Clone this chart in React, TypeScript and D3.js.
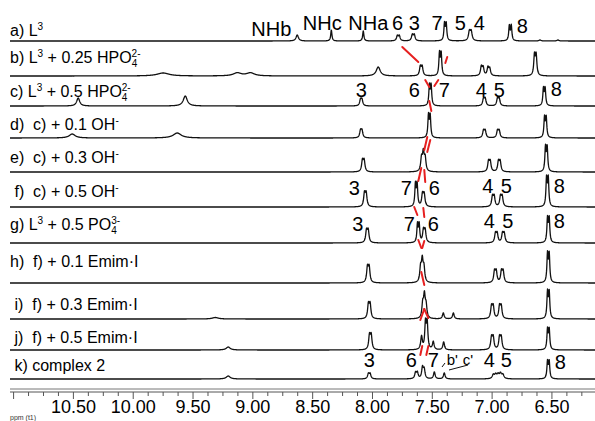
import React from 'react';
import * as d3 from 'd3';

// ppm axis ticks
const majorTicks = [10.5, 10.0, 9.5, 9.0, 8.5, 8.0, 7.5, 7.0, 6.5];

// Row labels: segments [text, kind] kind: n | sup | sub | stack (superscript stacked over previous subscript)
type Seg = [string, string];
const rowLabels: Seg[][] = [
  [['a) L', 'n'], ['3', 'sup']],
  [['b) L', 'n'], ['3', 'sup'], [' + 0.25 HPO', 'n'], ['4', 'sub'], ['2-', 'stack']],
  [['c) L', 'n'], ['3', 'sup'], [' + 0.5 HPO', 'n'], ['4', 'sub'], ['2-', 'stack']],
  [['d)  c) + 0.1 OH', 'n'], ['-', 'sup']],
  [['e)  c) + 0.3 OH', 'n'], ['-', 'sup']],
  [[' f)  c) + 0.5 OH', 'n'], ['-', 'sup']],
  [['g) L', 'n'], ['3', 'sup'], [' + 0.5 PO', 'n'], ['4', 'sub'], ['3-', 'stack']],
  [['h)  f) + 0.1 Emim·I', 'n']],
  [[' i)  f) + 0.3 Emim·I', 'n']],
  [[' j)  f) + 0.5 Emim·I', 'n']],
  [[' k) complex 2', 'n']],
];

// Peaks per spectrum: [ppm, intensity, half-width(ppm)]
type Pk = [number, number, number?];
const specA: Pk[] = [
  [8.629, 6, 0.012], [8.344, 11, 0.006], [8.077, 10, 0.006],
  [7.792, 5, 0.008], [7.776, 5, 0.008], [7.667, 6, 0.008], [7.651, 6, 0.008],
  [7.398, 17, 0.006], [7.384, 17, 0.006], [7.19, 9, 0.009], [7.175, 9, 0.009],
  [6.856, 15, 0.006], [6.840, 15, 0.006], [6.6, 1, 0.01], [6.45, 1, 0.01],
];
const specB: Pk[] = [
  [9.75, 3, 0.06], [9.13, 3, 0.04], [9.02, 3, 0.04], [7.952, 9, 0.02],
  [7.6, 9, 0.008], [7.585, 9, 0.008], [7.44, 22, 0.006], [7.426, 22, 0.006],
  [7.09, 9], [7.075, 8], [7.035, 8], [7.02, 7],
  [6.646, 20, 0.007], [6.632, 20, 0.007],
];
const specC: Pk[] = [
  [10.46, 8, 0.015], [9.565, 10, 0.02], [8.1, 6], [8.088, 6],
  [7.524, 20, 0.006], [7.51, 20, 0.006],
  [7.072, 7], [7.058, 7], [6.955, 7], [6.941, 7], [6.571, 17, 0.006], [6.557, 17, 0.006],
];
const specD: Pk[] = [
  [10.51, 4, 0.03], [9.632, 5, 0.04], [8.1, 7], [8.088, 7],
  [7.532, 22, 0.006], [7.518, 22, 0.006],
  [7.072, 7], [7.058, 7], [6.955, 7], [6.941, 7], [6.562, 20, 0.006], [6.548, 20, 0.006],
];
const specE: Pk[] = [
  [8.084, 11], [8.07, 11], [7.59, 13], [7.575, 18], [7.56, 13],
  [7.03, 10], [7.016, 10], [6.947, 10], [6.933, 10], [6.554, 24, 0.006], [6.54, 24, 0.006],
];
const specF: Pk[] = [
  [8.067, 13], [8.053, 13], [7.641, 22, 0.006], [7.627, 22, 0.006], [7.582, 12], [7.568, 12],
  [6.997, 10], [6.983, 10], [6.93, 10], [6.916, 10], [6.545, 28, 0.006], [6.531, 28, 0.006],
];
const specG: Pk[] = [
  [8.05, 12], [8.036, 12], [7.624, 18, 0.006], [7.61, 18, 0.006], [7.574, 12], [7.56, 12],
  [6.972, 9], [6.958, 9], [6.913, 9], [6.899, 9], [6.537, 24, 0.006], [6.523, 24, 0.006],
];
const specH: Pk[] = [
  [8.042, 15], [8.028, 15], [7.598, 14, 0.008], [7.584, 21, 0.008], [7.57, 14, 0.008],
  [6.98, 11], [6.966, 11], [6.922, 11], [6.908, 11], [6.537, 28, 0.006], [6.523, 28, 0.006],
];
const specI: Pk[] = [
  [9.314, 1.5, 0.03], [8.034, 14], [8.02, 14], [7.58, 14, 0.008], [7.566, 22, 0.008], [7.552, 12, 0.008],
  [7.408, 6], [7.324, 6],
  [7.005, 12], [6.991, 12], [6.938, 12], [6.924, 12], [6.537, 26, 0.006], [6.523, 26, 0.006],
];
const specJ: Pk[] = [
  [9.206, 3, 0.02], [8.025, 14], [8.011, 14], [7.59, 13, 0.008], [7.557, 26, 0.007], [7.543, 26, 0.007],
  [7.492, 8], [7.405, 8],
  [7.005, 12], [6.991, 12], [6.938, 12], [6.924, 12], [6.537, 20, 0.006], [6.523, 20, 0.006],
];
const specK: Pk[] = [
  [9.206, 3, 0.02], [8.034, 5], [8.02, 5], [7.64, 6, 0.008], [7.625, 6, 0.008],
  [7.582, 11], [7.568, 9], [7.483, 7], [7.4, 6],
  [6.99, 4, 0.01], [6.97, 4, 0.01], [6.95, 4, 0.01], [6.93, 5, 0.01], [6.91, 4, 0.01],
  [6.537, 17, 0.006], [6.523, 17, 0.006],
];
const spectra = [specA, specB, specC, specD, specE, specF, specG, specH, specI, specJ, specK];

// Peak assignments: [row, text, ppm]
const assignments: [number, string, number][] = [
  [0, 'NHb', 8.846], [0, 'NHc', 8.42], [0, 'NHa', 8.035], [0, '6', 7.79], [0, '3', 7.65],
  [0, '7', 7.46], [0, '5', 7.266], [0, '4', 7.107], [0, '8', 6.747],
  [2, '3', 8.094], [2, '6', 7.65], [2, '7', 7.40], [2, '4', 7.09], [2, '5', 6.94], [2, '8', 6.463],
  [5, '3', 8.152], [5, '7', 7.717], [5, '6', 7.483], [5, '4', 7.036], [5, '5', 6.881], [5, '8', 6.438],
  [6, '3', 8.123], [6, '7', 7.692], [6, '6', 7.492], [6, '4', 7.023], [6, '5', 6.869], [6, '8', 6.438],
  [10, '3', 8.027], [10, '6', 7.676], [10, '7', 7.492], [10, "b'", 7.333], [10, "c'", 7.203],
  [10, '4', 7.023], [10, '5', 6.881], [10, '8', 6.43],
];

// Red arrows (ppm1, y1, ppm2, y2)
const redMarks: [number, number, number, number][] = [
  [7.751, 47, 7.617, 62], [7.375, 57, 7.391, 63],
  [7.559, 80, 7.525, 87], [7.45, 80, 7.483, 86],
  [7.525, 101, 7.508, 111],
  [7.542, 137, 7.567, 150], [7.517, 140, 7.542, 152],
  [7.592, 168, 7.617, 181], [7.567, 170, 7.559, 182],
  [7.651, 207, 7.625, 215], [7.575, 208, 7.567, 217],
  [7.617, 240, 7.592, 248], [7.567, 241, 7.584, 248],
  [7.592, 272, 7.567, 285],
  [7.6, 320, 7.567, 309], [7.567, 309, 7.533, 318],
  [7.6, 355, 7.584, 346], [7.55, 355, 7.533, 346],
];

const FONT = '"Liberation Sans", Arial, Helvetica, sans-serif';
const W = 595, H = 421;

export default function App() {
  const x = d3.scaleLinear().domain([11.03, 6.14]).range([10, 595]);
  const rowY = [41, 76, 106, 138, 172, 207, 243, 283, 319, 350, 379];
  const labelBase = [36, 63, 97, 130, 163, 197, 230, 267, 310, 343, 371];

  const samples: number[] = d3.range(10, 595.01, 0.25);
  const line = d3.line<[number, number]>().x(d => d[0]).y(d => d[1]);

  const paths = spectra.map((peaks, i) => {
    const base = rowY[i];
    const pts: [number, number][] = samples.map(px => {
      const p = x.invert(px);
      let s = 0;
      for (const pk of peaks) {
        const w = pk[2] ?? 0.008;
        const d = p - pk[0];
        s += pk[1] * (w * w) / (d * d + w * w);
      }
      return [px, base - s];
    });
    return line(pts) as string;
  });

  const ticks = d3.range(0, 39).map(k => 11.0 - k * 0.125);

  const annY = (row: number, t: string) => {
    if (row === 0) {
      if (t === 'NHb') return 36;
      if (t === '8') return 33;
      return 30;
    }
    if (row === 2) return t === '8' ? 96 : 97;
    if (row === 5) return ['4', '5', '8'].includes(t) ? 193 : 195;
    if (row === 6) return ['4', '5', '8'].includes(t) ? 228 : 231;
    if (row === 10) return t === "b'" || t === "c'" ? 365 : t === '8' ? 369 : 367;
    return rowY[row] - 10;
  };

  const renderLabel = (segs: Seg[], i: number) => {
    let cur = 0;
    const parts = segs.map((s, k) => {
      const [t, kind] = s;
      let target = 0, fs = 16, dx = 0;
      if (kind === 'sup') { target = -6; fs = 10; }
      if (kind === 'sub') { target = 4; fs = 10; }
      if (kind === 'stack') { target = -6; fs = 10; dx = -5.6; }
      const dy = target - cur;
      cur = target;
      return (
        <tspan key={k} dy={dy} dx={dx || undefined} fontSize={fs}>{t}</tspan>
      );
    });
    return (
      <text key={i} x={10} y={labelBase[i]} fontFamily={FONT} fontSize={16}
        style={{ whiteSpace: 'pre' }} fill="#000">{parts}</text>
    );
  };

  return (
    <svg width={W} height={H} style={{ position: 'absolute', left: 0, top: 0, background: '#fff' }}>
      <rect x={0} y={0} width={W} height={H} fill="#fff" />
      {paths.map((d, i) => (
        <path key={i} d={d} fill="none" stroke="#111" strokeWidth={1.3} strokeLinejoin="round" />
      ))}
      {rowLabels.map((segs, i) => renderLabel(segs, i))}
      {assignments.map(([row, t, p], k) => (
        <text key={k} x={x(p)} y={annY(row, t)} textAnchor="middle" fontFamily={FONT}
          fontSize={t === "b'" || t === "c'" ? 15 : 20} fill="#000">{t}</text>
      ))}
      {/* pointer lines for b' c' */}
      <line x1={442} y1={367} x2={445} y2={363} stroke="#111" strokeWidth={1} />
      <line x1={449} y1={370} x2={468} y2={365} stroke="#111" strokeWidth={1} />
      {redMarks.map(([p1, y1, p2, y2], k) => (
        <line key={k} x1={x(p1)} y1={y1} x2={x(p2)} y2={y2} stroke="#e62020" strokeWidth={2} strokeLinecap="round" />
      ))}
      {/* axis */}
      <line x1={10} x2={595} y1={389} y2={389} stroke="#777" strokeWidth={1} />
      <line x1={10} x2={595} y1={392} y2={392} stroke="#555" strokeWidth={1} />
      {ticks.map((t, k) => {
        const major = Math.abs(t * 2 - Math.round(t * 2)) < 1e-6;
        return <line key={k} x1={x(t)} x2={x(t)} y1={392} y2={major ? 399 : 396} stroke="#555" strokeWidth={1} />;
      })}
      {majorTicks.map((t, k) => (
        <text key={k} x={x(t)} y={413} textAnchor="middle" fontFamily={FONT} fontSize={18} fill="#000">
          {t.toFixed(2)}
        </text>
      ))}
      <text x={10} y={420} fontFamily={FONT} fontSize={7} fill="#333">ppm (t1)</text>
    </svg>
  );
}
